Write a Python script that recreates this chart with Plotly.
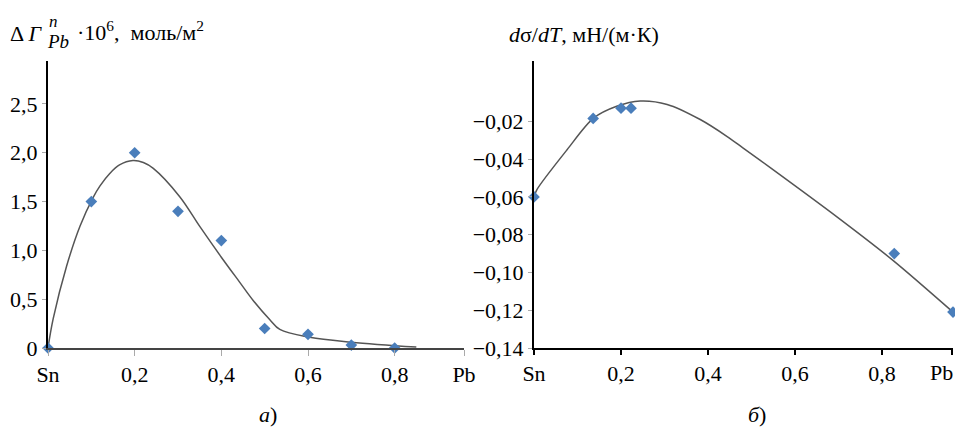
import plotly.graph_objects as go

# ---- data: panel a) ----
a_x = [0, 0.1, 0.2, 0.3, 0.4, 0.5, 0.6, 0.7, 0.8, 0.9]
a_y = [0, 1.5, 2.0, 1.4, 1.1, 0.2, 0.14, 0.03, 0.0, -0.01]
a_fit_x = [0, 0.012, 0.043, 0.074, 0.104, 0.12, 0.143, 0.165, 0.196, 0.22, 0.243, 0.304, 0.351, 0.40, 0.443, 0.473, 0.512, 0.535, 0.604, 0.70, 0.85]
a_fit_y = [0, 0.30, 0.84, 1.25, 1.54, 1.66, 1.79, 1.875, 1.92, 1.90, 1.84, 1.55, 1.24, 0.93, 0.67, 0.49, 0.29, 0.19, 0.11, 0.06, 0.01]
a_yticks = [0, 0.5, 1.0, 1.5, 2.0, 2.5]
a_ytick_labels = ["0", "0,5", "1,0", "1,5", "2,0", "2,5"]

# ---- data: panel б) ----
b_x = [0, 0.136, 0.2, 0.223, 0.828, 0.963]
b_y = [-0.06, -0.0184, -0.013, -0.013, -0.090, -0.121]
b_fit_x = [0, 0.007, 0.076, 0.136, 0.19, 0.244, 0.306, 0.382, 0.444, 0.48, 0.543, 0.697, 0.825, 0.963]
b_fit_y = [-0.06, -0.056, -0.035, -0.0184, -0.012, -0.0092, -0.011, -0.019, -0.028, -0.034, -0.0445, -0.0707, -0.0936, -0.121]
b_yticks = [-0.14, -0.12, -0.10, -0.08, -0.06, -0.04, -0.02]
b_ytick_labels = ["\u22120,14", "\u22120,12", "\u22120,10", "\u22120,08", "\u22120,06", "\u22120,04", "\u22120,02"]

x_ticks = [0, 0.2, 0.4, 0.6, 0.8, 0.96]
x_tick_labels = ["Sn", "0,2", "0,4", "0,6", "0,8", "Pb"]
b_x_tick_labels = ["Sn", "0,2", "0,4", "0,6", "0,8", ""]

W, H = 955, 428
FONT = "Liberation Serif"
MARK = "#4a7ebb"
CURVE = "#555555"

def px(x):
    return x / W

def py(y):
    return 1 - y / H

fig = go.Figure()
fig.add_trace(go.Scatter(x=a_fit_x, y=a_fit_y, mode="lines", line=dict(color=CURVE, width=1.5, shape="spline", smoothing=1.0),
                         xaxis="x", yaxis="y", hoverinfo="skip", cliponaxis=False))
fig.add_trace(go.Scatter(x=a_x, y=a_y, mode="markers", marker=dict(symbol="diamond", size=9, color=MARK),
                         xaxis="x", yaxis="y", cliponaxis=False))
fig.add_trace(go.Scatter(x=b_fit_x, y=b_fit_y, mode="lines", line=dict(color=CURVE, width=1.5, shape="spline", smoothing=0.8),
                         xaxis="x2", yaxis="y2", hoverinfo="skip", cliponaxis=False))
fig.add_trace(go.Scatter(x=b_x, y=b_y, mode="markers", marker=dict(symbol="diamond", size=9, color=MARK),
                         xaxis="x2", yaxis="y2", cliponaxis=False))

ydom = [py(348), py(61)]
tickfont = dict(family=FONT, size=22, color="black")
ldom = [px(48), px(464)]
rdom = [px(534), px(953)]

fig.update_layout(
    template="none",
    width=W, height=H, margin=dict(l=0, r=0, t=0, b=0, pad=0), autosize=False,
    paper_bgcolor="white", plot_bgcolor="white", showlegend=False,
    font=dict(family=FONT, color="black", size=22),
    xaxis=dict(domain=ldom, range=[0, 0.96], tickvals=x_ticks, ticktext=x_tick_labels,
               showgrid=False, zeroline=False, showline=True, linecolor="#444444", linewidth=1.5,
               ticks="outside", ticklen=6, tickcolor="#aaaaaa", tickwidth=1, tickfont=tickfont,
               anchor="y", automargin=False),
    xaxis4=dict(domain=ldom, range=[0, 0.96], tickvals=[0.96], showticklabels=False,
                showgrid=False, zeroline=False, showline=False,
                ticks="inside", ticklen=6, tickcolor="black", tickwidth=1.5,
                anchor="y", overlaying="x", automargin=False),
    yaxis=dict(domain=ydom, range=[0, 2.94], tickvals=a_yticks, ticktext=a_ytick_labels,
               showgrid=False, zeroline=False, showline=True, linecolor="black", linewidth=2,
               ticks="outside", ticklen=4, tickcolor="#aaaaaa", tickwidth=1, tickfont=tickfont,
               anchor="x", automargin=False),
    xaxis2=dict(domain=rdom, range=[0, 0.963], tickvals=x_ticks, ticktext=b_x_tick_labels,
                showgrid=False, zeroline=False, showline=True, linecolor="black", linewidth=1.5,
                ticks="outside", ticklen=5, tickcolor="black", tickwidth=1.5, tickfont=tickfont,
                anchor="y2", automargin=False),
    xaxis3=dict(domain=rdom, range=[0, 0.963], tickvals=x_ticks, showticklabels=False,
                showgrid=False, zeroline=False, showline=False,
                ticks="inside", ticklen=5, tickcolor="black", tickwidth=1.5,
                anchor="y2", overlaying="x2", automargin=False),
    yaxis2=dict(domain=ydom, range=[-0.14, 0.012], tickvals=b_yticks, ticktext=b_ytick_labels,
                showgrid=False, zeroline=False, showline=True, linecolor="black", linewidth=2,
                ticks="outside", ticklen=4, tickcolor="#aaaaaa", tickwidth=1, tickfont=tickfont,
                anchor="x2", automargin=False),
)

ann = []
def text(t, x, y, size=22, xanchor="left", family=FONT):
    ann.append(dict(text=t, x=px(x), y=py(y), xref="paper", yref="paper", showarrow=False,
                    xanchor=xanchor, yanchor="middle", font=dict(family=family, size=size, color="black")))

# left title
text("\u0394 <i>\u0393</i>", 8, 33, 22)
text("<i>n</i>", 47, 22, 17)
text("<i>Pb</i>", 45, 42, 19)
text("\u00b710<sup>6</sup>,  \u043c\u043e\u043b\u044c/\u043c<sup>2</sup>", 75, 31, 22)
# right title
text("<i>d</i>\u03c3/<i>dT</i>, \u043c\u041d/(\u043c\u00b7\u041a)", 507, 35, 22)
# right "Pb" tick label, kept inside the page
text("Pb", 955, 372, 22, "right")
# captions
text("<i>\u0430</i>)", 268, 414, 22, "center")
text("<i>\u0431</i>)", 757, 414, 22, "center")

fig.update_layout(annotations=ann)
fig.write_html("out.html", config={"displayModeBar": False},
               post_script="document.body.style.margin='0px';")
